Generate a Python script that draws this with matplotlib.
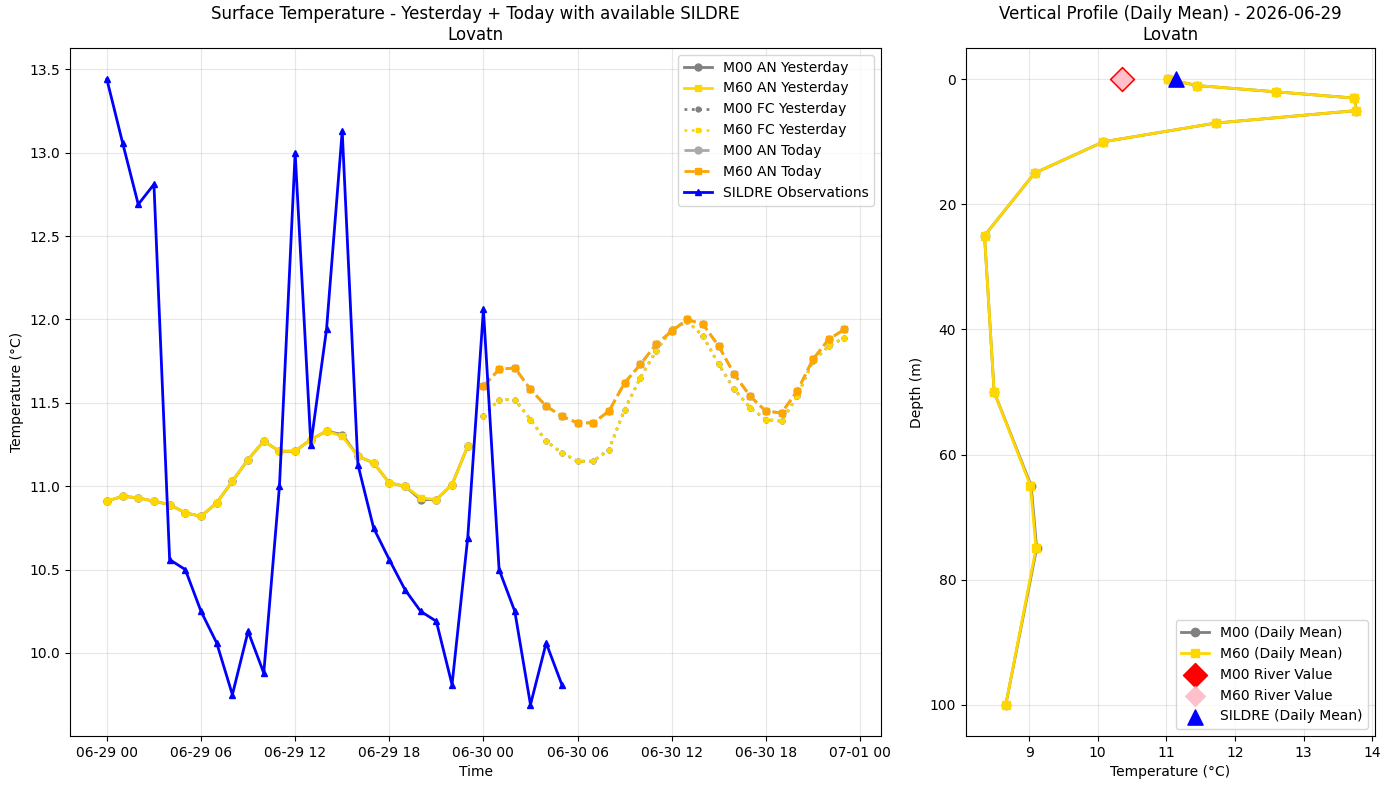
import numpy as np
import pandas as pd
import matplotlib
matplotlib.use('Agg')
import matplotlib.pyplot as plt
import matplotlib.dates as mdates

# hourly time axes
times_yesterday = pd.date_range('2026-06-29 00:00', periods=24, freq='h')
times_today = pd.date_range('2026-06-30 00:00', periods=24, freq='h')
times_sildre = pd.date_range('2026-06-29 00:00', periods=30, freq='h')

m00_an_yesterday = [10.91, 10.94, 10.93, 10.91, 10.89, 10.84, 10.82, 10.90, 11.03, 11.16, 11.27, 11.21,
                    11.21, 11.28, 11.33, 11.31, 11.18, 11.14, 11.02, 11.00, 10.92, 10.92, 11.01, 11.24]
m60_an_yesterday = [10.91, 10.94, 10.93, 10.91, 10.89, 10.84, 10.82, 10.90, 11.03, 11.16, 11.27, 11.21,
                    11.21, 11.28, 11.33, 11.30, 11.18, 11.14, 11.02, 11.00, 10.93, 10.92, 11.01, 11.24]

m00_fc_yesterday = [11.42, 11.52, 11.52, 11.40, 11.27, 11.20, 11.15, 11.15, 11.22, 11.46, 11.65, 11.81,
                    11.94, 11.99, 11.90, 11.73, 11.58, 11.47, 11.40, 11.39, 11.54, 11.75, 11.84, 11.89]
m60_fc_yesterday = [11.42, 11.52, 11.52, 11.40, 11.27, 11.20, 11.15, 11.15, 11.22, 11.46, 11.65, 11.81,
                    11.94, 11.99, 11.90, 11.73, 11.58, 11.47, 11.40, 11.39, 11.54, 11.75, 11.84, 11.89]

m00_an_today = [11.60, 11.70, 11.71, 11.58, 11.48, 11.42, 11.38, 11.38, 11.45, 11.62, 11.73, 11.85,
                11.93, 12.00, 11.97, 11.84, 11.67, 11.54, 11.45, 11.44, 11.57, 11.76, 11.88, 11.94]
m60_an_today = [11.60, 11.70, 11.71, 11.58, 11.48, 11.42, 11.38, 11.38, 11.45, 11.62, 11.73, 11.85,
                11.93, 12.00, 11.97, 11.84, 11.67, 11.54, 11.45, 11.44, 11.57, 11.76, 11.88, 11.94]

sildre_obs = [13.44, 13.06, 12.69, 12.81, 10.56, 10.50, 10.25, 10.06, 9.75, 10.13, 9.88, 11.00,
              13.00, 11.25, 11.94, 13.13, 11.13, 10.75, 10.56, 10.38, 10.25, 10.19, 9.81, 10.69,
              12.06, 10.50, 10.25, 9.69, 10.06, 9.81]

# vertical profile (daily mean)
depths = [0, 1, 2, 3, 5, 7, 10, 15, 25, 50, 65, 75, 100]
m00_profile = [11.03, 11.45, 12.60, 13.74, 13.77, 11.72, 10.08, 9.08, 8.35, 8.49, 9.03, 9.11, 8.66]
m60_profile = [11.03, 11.45, 12.60, 13.73, 13.77, 11.72, 10.08, 9.08, 8.35, 8.49, 9.02, 9.10, 8.66]
m00_river = 10.36
m60_river = 10.36
sildre_mean = 11.14
river_depth = 0

fig, (ax1, ax2) = plt.subplots(1, 2, figsize=(13.89, 7.9), dpi=100,
                               gridspec_kw={'width_ratios': [1.983, 1]})
fig.subplots_adjust(left=0.0504, right=0.9899, top=0.9392, bottom=0.0684, wspace=0.139)

ax1.plot(times_yesterday, m00_an_yesterday, color='gray', linestyle='-', marker='o',
         markersize=5, linewidth=2, label='M00 AN Yesterday')
ax1.plot(times_yesterday, m60_an_yesterday, color='gold', linestyle='-', marker='s',
         markersize=5, linewidth=2, label='M60 AN Yesterday')
ax1.plot(times_today, m00_fc_yesterday, color='gray', linestyle=':', marker='o',
         markersize=3.5, linewidth=2, label='M00 FC Yesterday')
ax1.plot(times_today, m60_fc_yesterday, color='gold', linestyle=':', marker='s',
         markersize=3.5, linewidth=2, label='M60 FC Yesterday')
ax1.plot(times_today, m00_an_today, color='darkgray', linestyle='--', marker='o',
         markersize=5, linewidth=2, label='M00 AN Today')
ax1.plot(times_today, m60_an_today, color='orange', linestyle='--', marker='s',
         markersize=5, linewidth=2, label='M60 AN Today')
ax1.plot(times_sildre, sildre_obs, color='blue', linestyle='-', marker='^',
         markersize=5, linewidth=2, label='SILDRE Observations')

ax1.set_title('Surface Temperature - Yesterday + Today with available SILDRE\nLovatn')
ax1.set_xlabel('Time')
ax1.set_ylabel('Temperature (°C)')
ax1.xaxis.set_major_locator(mdates.HourLocator(byhour=[0, 6, 12, 18]))
ax1.xaxis.set_major_formatter(mdates.DateFormatter('%m-%d %H'))
ax1.legend(loc='upper right')
ax1.grid(True, alpha=0.3)

ax2.plot(m00_profile, depths, color='gray', marker='o', markersize=6, linewidth=2,
         label='M00 (Daily Mean)')
ax2.plot(m60_profile, depths, color='gold', marker='s', markersize=6, linewidth=2,
         label='M60 (Daily Mean)')
ax2.scatter([m00_river], [river_depth], color='red', marker='D', s=150, zorder=5,
            label='M00 River Value')
ax2.scatter([m60_river], [river_depth], color='pink', marker='D', s=100, zorder=6,
            label='M60 River Value')
ax2.scatter([sildre_mean], [river_depth], color='blue', marker='^', s=120, zorder=7,
            label='SILDRE (Daily Mean)')
ax2.invert_yaxis()
ax2.set_title('Vertical Profile (Daily Mean) - 2026-06-29\nLovatn')
ax2.set_xlabel('Temperature (°C)')
ax2.set_ylabel('Depth (m)')
ax2.legend(loc='lower right')
ax2.grid(True, alpha=0.3)

plt.savefig('out.png', dpi=100)
plt.close()
